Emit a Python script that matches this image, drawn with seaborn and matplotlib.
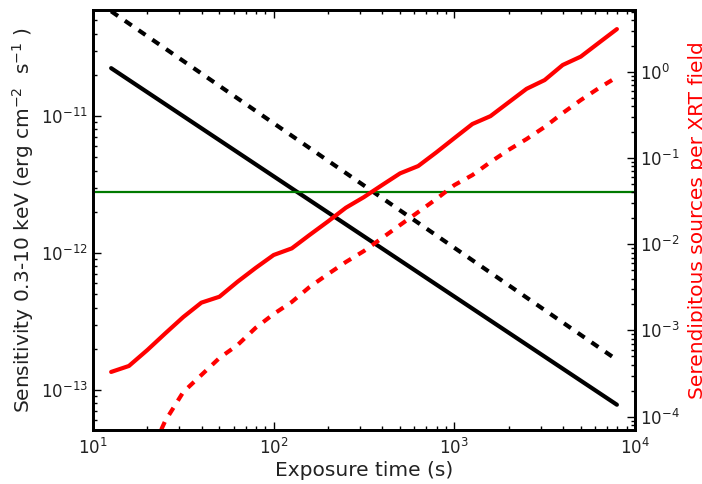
import numpy as np
import pandas as pd
import matplotlib
matplotlib.use("Agg")
import matplotlib.pyplot as plt
import seaborn as sns

# exposure grid (s), 10^1.1 ... 10^3.9
exposure = [12.6, 15.8, 20.0, 25.1, 31.6, 39.8, 50.1, 63.1, 79.4, 100,
            126, 158, 200, 251, 316, 398, 501, 631, 794, 1000,
            1259, 1585, 1995, 2512, 3162, 3981, 5012, 6310, 7943]

# serendipitous sources per XRT field (right axis)
src_solid = [3.30e-4, 3.87e-4, 5.93e-4, 9.23e-4, 1.43e-3, 2.10e-3, 2.46e-3, 3.67e-3,
             5.30e-3, 7.50e-3, 8.95e-3, 0.0128, 0.0184, 0.0265, 0.0352, 0.0485,
             0.0664, 0.0807, 0.116, 0.170, 0.248, 0.306, 0.441, 0.635, 0.802,
             1.20, 1.50, 2.17, 3.13]
src_dashed = [3.15e-5, 8.91e-5, 1.93e-4, 3.04e-4, 4.79e-4, 6.77e-4, 1.07e-3,
              1.55e-3, 2.14e-3, 3.19e-3, 4.51e-3, 6.22e-3, 8.34e-3, 0.0118,
              0.0167, 0.0236, 0.0334, 0.0485, 0.0634, 0.0897, 0.124, 0.166,
              0.229, 0.332, 0.470, 0.647, 0.868]
exposure_dashed = exposure[2:]

# sensitivity (left axis), straight power laws -> endpoints
sens_t = [12.6, 7943]
sens_solid = [2.24e-11, 7.8e-14]
sens_dashed = [5.83e-11, 1.66e-13]
sens_level = 2.77e-12

sns.set_theme(style="white")
plt.rcParams["font.family"] = ["DejaVu Sans"]
plt.rcParams.update({"axes.edgecolor": "black", "axes.linewidth": 2})

fig = plt.figure(figsize=(7.02, 4.84), dpi=100)
ax = fig.add_axes([0.1325, 0.1116, 0.772, 0.8674])

sns.lineplot(x=sens_t, y=sens_solid, ax=ax, color="black", lw=3)
sns.lineplot(x=sens_t, y=sens_dashed, ax=ax, color="black", lw=3, linestyle=(0, (2, 2)))
ax.axhline(sens_level, color="#007a00", lw=1.6)
ax.set_xscale("log")
ax.set_yscale("log")
ax.set_xlim(10, 1e4)
ax.set_ylim(5.1e-14, 5.94e-11)
ax.set_xlabel("Exposure time (s)", fontsize=14.5, color="#222222", labelpad=2)
ax.set_ylabel(r"Sensitivity 0.3-10 keV (erg cm$^{-2}$  s$^{-1}$ )", fontsize=14.5, color="#222222")

ax2 = ax.twinx()
sns.lineplot(x=exposure, y=src_solid, ax=ax2, color="red", lw=3)
sns.lineplot(x=exposure_dashed, y=src_dashed, ax=ax2, color="red", lw=3, linestyle=(0, (2, 2)))
ax2.set_yscale("log")
ax2.set_ylim(7.0e-5, 5.19)
ax2.set_xlim(10, 1e4)
ax2.set_ylabel("Serendipitous sources per XRT field", fontsize=14.5, color="red", labelpad=6)

# inward ticks, classic look
ax.tick_params(which="both", direction="in", color="black", width=1,
               left=True, right=False, top=True, bottom=True)
ax.tick_params(which="major", length=6, labelsize=12, labelcolor="#222222")
ax.tick_params(which="minor", length=3)
ax.tick_params(axis="x", which="major", pad=6)
ax2.tick_params(which="both", direction="in", color="black", width=1, right=True, left=False)
ax2.tick_params(which="major", length=6, labelsize=12, labelcolor="#222222")
ax2.tick_params(which="minor", length=3)

fig.savefig("out.png", dpi=100)
